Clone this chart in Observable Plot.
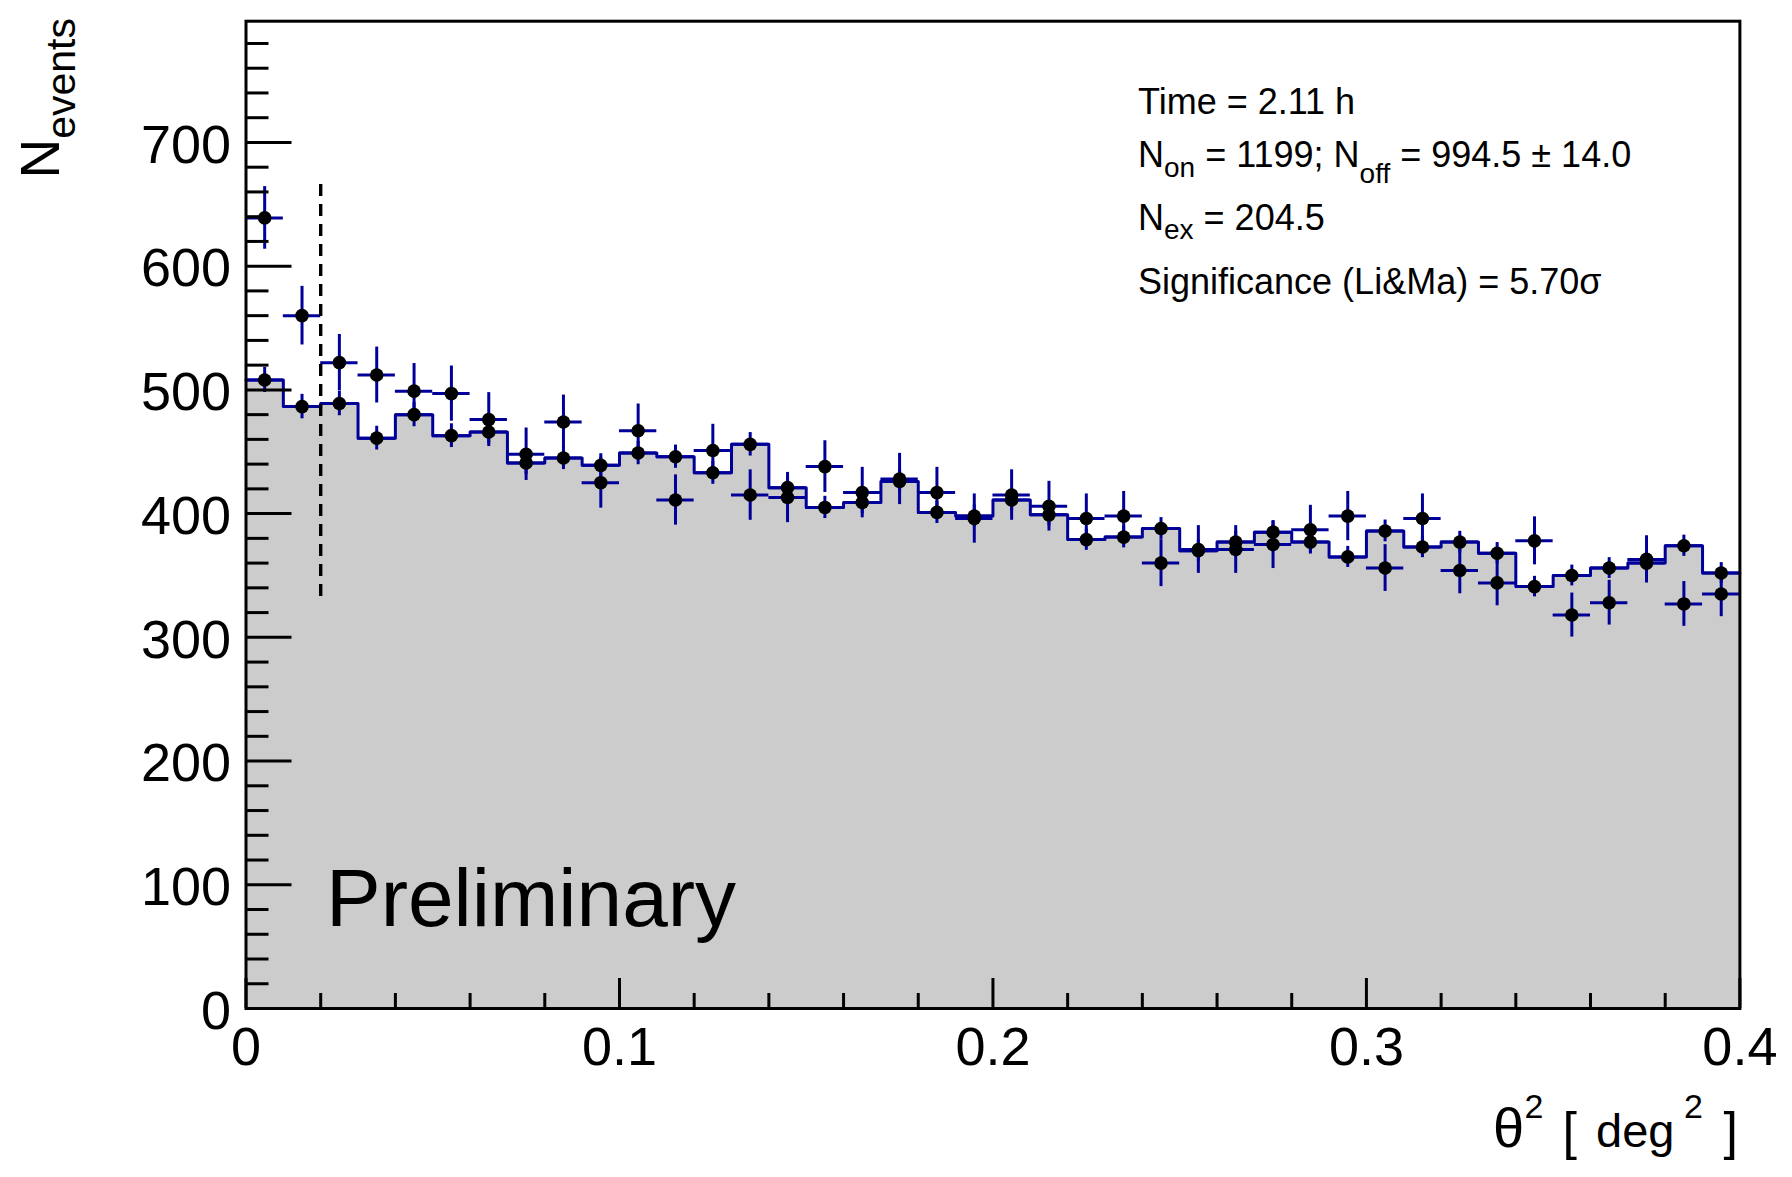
<!DOCTYPE html>
<html>
<head>
<meta charset="utf-8">
<script src="https://cdn.jsdelivr.net/npm/d3@7"></script>
<script src="https://cdn.jsdelivr.net/npm/@observablehq/plot@0.6"></script>
<style>
html, body { margin: 0; padding: 0; background: #fff; }
svg { display: block; }
</style>
</head>
<body>
<div id="chart"></div>
<script>
// ---- data ----
const binLow = [0.00, 0.01, 0.02, 0.03, 0.04, 0.05, 0.06, 0.07, 0.08, 0.09,
                0.10, 0.11, 0.12, 0.13, 0.14, 0.15, 0.16, 0.17, 0.18, 0.19,
                0.20, 0.21, 0.22, 0.23, 0.24, 0.25, 0.26, 0.27, 0.28, 0.29,
                0.30, 0.31, 0.32, 0.33, 0.34, 0.35, 0.36, 0.37, 0.38, 0.39];
const binWidth = 0.01;
const onCounts = [639, 560, 522, 512, 499, 497, 476, 448, 474, 425,
                  467, 411, 451, 415, 413, 438, 417, 428, 417, 396,
                  415, 406, 396, 398, 360, 371, 371, 375, 387, 398,
                  356, 396, 354, 344, 378, 318, 328, 363, 327, 335];
const onErr = [25.3, 23.7, 22.8, 22.6, 22.3, 22.3, 21.8, 21.2, 21.8, 20.6,
               21.6, 20.3, 21.2, 20.4, 20.3, 20.9, 20.4, 20.7, 20.4, 19.9,
               20.4, 20.1, 19.9, 19.9, 19.0, 19.3, 19.3, 19.4, 19.7, 19.9,
               18.9, 19.9, 18.8, 18.5, 19.4, 17.8, 18.1, 19.1, 18.1, 18.3];
const offCounts = [508, 486.5, 489, 461, 480, 463, 466, 441, 445, 439,
                   449, 446, 433, 456, 421, 405, 409, 426, 401, 398,
                   411, 399, 379, 381, 388, 370, 377, 385, 377, 365,
                   386, 373, 377, 368, 341, 350, 356, 360, 374, 352];
const offErr = [10.1, 9.9, 9.9, 9.6, 9.8, 9.6, 9.7, 9.4, 9.4, 9.4,
                9.5, 9.4, 9.3, 9.5, 9.2, 9.0, 9.0, 9.2, 9.0, 8.9,
                9.1, 8.9, 8.7, 8.7, 8.8, 8.6, 8.7, 8.8, 8.7, 8.5,
                8.8, 8.6, 8.7, 8.6, 8.3, 8.4, 8.4, 8.5, 8.6, 8.4];
const cutTheta2 = [0.02];
const cutLineRange = [333, 670];

const xMajorTicks = [0, 0.1, 0.2, 0.3, 0.4];
const xMinorTicks = [0.02, 0.04, 0.06, 0.08, 0.12, 0.14, 0.16, 0.18, 0.22, 0.24, 0.26, 0.28, 0.32, 0.34, 0.36, 0.38];
const yMajorTicks = [0, 100, 200, 300, 400, 500, 600, 700];
const yMinorTicks = [20, 40, 60, 80, 120, 140, 160, 180, 220, 240, 260, 280, 320, 340, 360, 380,
                     420, 440, 460, 480, 520, 540, 560, 580, 620, 640, 660, 680, 720, 740, 760, 780];
const xDomain = [0, 0.4];
const yDomain = [0, 798];

const statsTime = "Time = 2.11 h";
const statsNon = "1199";
const statsNoff = "994.5 ± 14.0";
const statsNex = "204.5";
const statsSig = "Significance (Li&Ma) = 5.70σ";
const watermark = "Preliminary";

// ---- build table ----
const bins = binLow.map((lo, i) => ({
  lo, hi: lo + binWidth, c: lo + binWidth / 2,
  on: onCounts[i], onErr: onErr[i], off: offCounts[i], offErr: offErr[i]
}));
const stepPts = bins.map(d => ({x: d.lo, y: d.off}));
stepPts.push({x: bins[bins.length - 1].hi, y: bins[bins.length - 1].off});

const BLUE = "#000099";
const FONT = "'Liberation Sans', Arial, Helvetica, sans-serif";
const fmt = d => d === 0 ? "0" : String(d);

const chart = Plot.plot({
  width: 1792,
  height: 1177,
  marginLeft: 245.5,
  marginRight: 52.6,
  marginTop: 20.7,
  marginBottom: 169,
  x: {domain: xDomain},
  y: {domain: yDomain},
  style: {fontFamily: FONT, background: "white", color: "black", overflow: "visible"},
  marks: [
    Plot.areaY(stepPts, {x: "x", y: "y", curve: "step-after", fill: "#cccccc"}),
    Plot.line(stepPts, {x: "x", y: "y", curve: "step-after", stroke: BLUE, strokeWidth: 3}),
    // OFF error bars
    Plot.ruleX(bins, {x: "c", y1: d => d.off - d.offErr, y2: d => d.off + d.offErr, stroke: BLUE, strokeWidth: 3}),
    Plot.ruleY(bins, {y: "off", x1: "lo", x2: "hi", stroke: BLUE, strokeWidth: 3}),
    // ON error bars
    Plot.ruleX(bins, {x: "c", y1: d => d.on - d.onErr, y2: d => d.on + d.onErr, stroke: BLUE, strokeWidth: 3}),
    Plot.ruleY(bins, {y: "on", x1: "lo", x2: "hi", stroke: BLUE, strokeWidth: 3}),
    Plot.dot(bins, {x: "c", y: "off", r: 6.8, fill: "black"}),
    Plot.dot(bins, {x: "c", y: "on", r: 6.8, fill: "black"}),
    // cut line
    Plot.ruleX(cutTheta2, {x: d => d, y1: cutLineRange[0], y2: cutLineRange[1], stroke: "black", strokeWidth: 3.4, strokeDasharray: "12,8"}),
    // axes: ticks inside the frame, like ROOT
    Plot.axisY({ticks: yMajorTicks, tickSize: -46, text: null, strokeWidth: 3}),
    Plot.axisY({ticks: yMinorTicks, tickSize: -23, text: null, strokeWidth: 3}),
    Plot.axisY({ticks: yMajorTicks, tickSize: 0, tickPadding: 15, tickFormat: fmt, fontSize: 54, dy: 3, label: null}),
    Plot.axisX({ticks: xMajorTicks, tickSize: -30, text: null, strokeWidth: 3}),
    Plot.axisX({ticks: xMinorTicks, tickSize: -15, text: null, strokeWidth: 3}),
    Plot.axisX({ticks: xMajorTicks, tickSize: 0, tickPadding: 18, tickFormat: fmt, fontSize: 54, label: null}),
    Plot.frame({stroke: "black", strokeWidth: 3})
  ]
});
document.getElementById("chart").appendChild(chart);

// ---- rich-text annotations (sub/superscripts) ----
const svg = d3.select(chart);
const g = svg.append("g").attr("font-family", FONT).attr("fill", "black").attr("text-anchor", "start");

function rich(x, y, size, parts, anchor = "start", transform = null) {
  const t = g.append("text").attr("font-size", size).attr("text-anchor", anchor);
  if (transform) t.attr("transform", transform); else t.attr("x", x).attr("y", y);
  let shift = 0;
  for (const p of parts) {
    const s = t.append("tspan").text(p.t);
    if (p.size) s.attr("font-size", p.size);
    const target = p.dy || 0;
    if (target !== shift) { s.attr("dy", target - shift); shift = target; }
  }
  return t;
}

// statistics box
rich(1138, 113.5, 36, [{t: statsTime}]);
rich(1138, 166.7, 36, [
  {t: "N"}, {t: "on", size: 28, dy: 10}, {t: " = " + statsNon + "; N", dy: 0},
  {t: "off", size: 28, dy: 16.5}, {t: " = " + statsNoff, dy: 0}
]);
rich(1138, 230, 36, [{t: "N"}, {t: "ex", size: 28, dy: 8.5}, {t: " = " + statsNex, dy: 0}]);
rich(1138, 294, 36, [{t: statsSig}]);

// y-axis title (rotated)
rich(0, 0, 55, [{t: "N"}, {t: "events", size: 41, dy: 16}], "end", "translate(59.4,18) rotate(-90)");

// x-axis title: θ² [ deg² ]
const xt = g.append("text").attr("text-anchor", "start");
xt.append("tspan").attr("x", 1493).attr("y", 1147).attr("font-size", 56).text("θ");
xt.append("tspan").attr("x", 1524.5).attr("y", 1118).attr("font-size", 34).text("2");
xt.append("tspan").attr("x", 1562.5).attr("y", 1149).attr("font-size", 52).text("[");
xt.append("tspan").attr("x", 1596).attr("y", 1147).attr("font-size", 47).text("deg");
xt.append("tspan").attr("x", 1684).attr("y", 1118).attr("font-size", 34).text("2");
xt.append("tspan").attr("x", 1723.5).attr("y", 1149).attr("font-size", 52).text("]");

// watermark
g.append("text").attr("text-anchor", "start").attr("x", 326).attr("y", 926).attr("font-size", 82).text(watermark);
</script>
</body>
</html>
